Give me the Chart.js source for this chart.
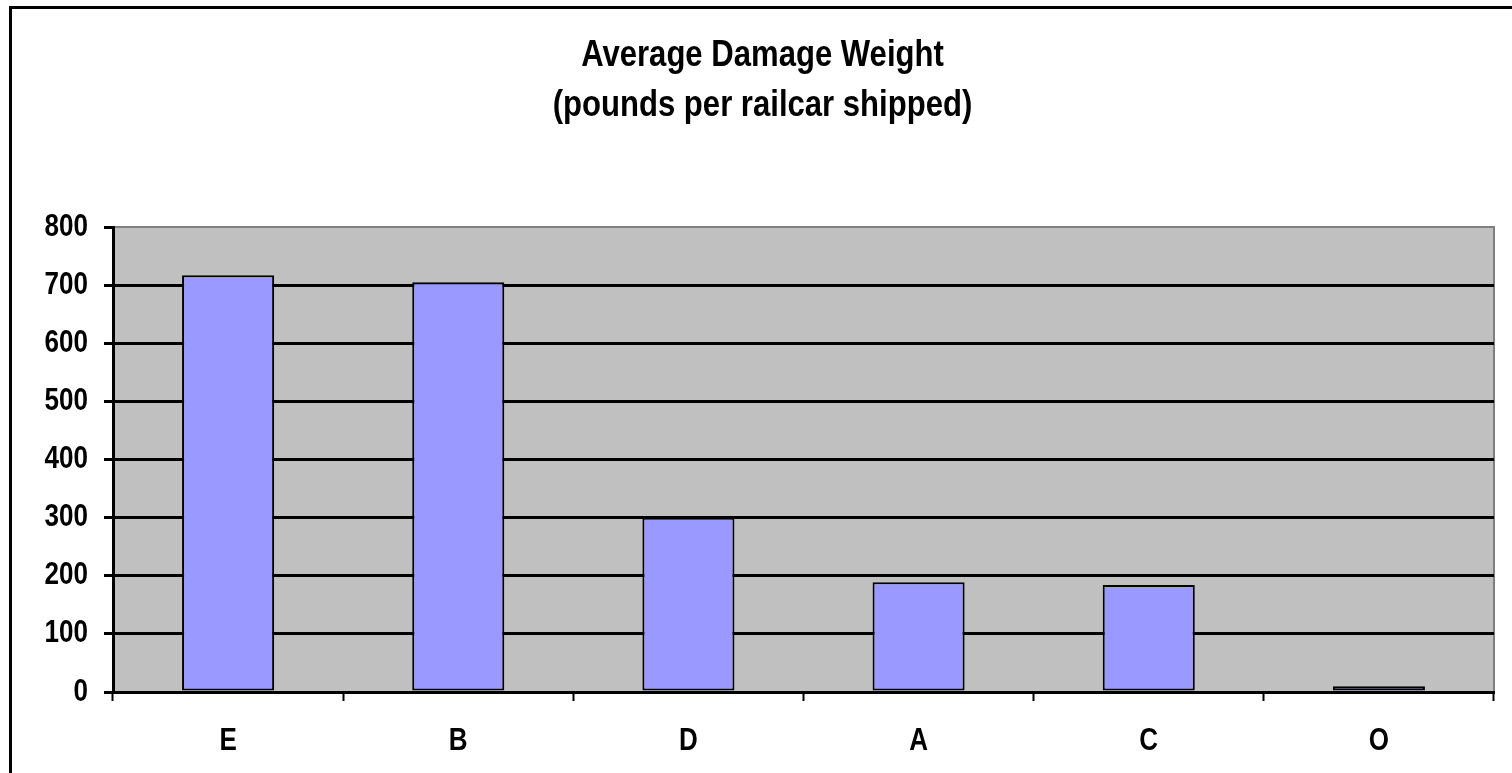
<!DOCTYPE html>
<html>
<head>
<meta charset="utf-8">
<script src="https://cdn.jsdelivr.net/npm/chart.js@4/dist/chart.umd.min.js"></script>
<style>
  html, body { margin:0; padding:0; background:#fff; overflow:hidden; }
  #wrap { position:absolute; left:0; top:0; width:1512px; height:773px; }
  #frame { position:absolute; left:9px; top:6px; width:3000px; height:3000px;
           border-left:3px solid #000; border-top:3px solid #000; pointer-events:none; }
</style>
</head>
<body>
<div id="wrap"><canvas id="c" width="1512" height="773"></canvas></div>
<div id="frame"></div>
<script>
const titleLines = ['Average Damage Weight', '(pounds per railcar shipped)'];
const categories = ['E', 'B', 'D', 'A', 'C', 'O'];
const damageWeight = [717, 705, 300, 189, 184, 10];
const yTicks = [0, 100, 200, 300, 400, 500, 600, 700, 800];

const FONT = "'Liberation Sans', Arial, sans-serif";
const NARROW = 0.84; // emulate an Arial Narrow look

const narrowText = {
  id: 'narrowText',
  beforeInit(chart) {
    const ctx = chart.ctx;
    const orig = ctx.fillText.bind(ctx);
    ctx.fillText = function (t, x, y, mw) {
      ctx.save();
      ctx.translate(x, y);
      ctx.scale(NARROW, 1);
      if (mw !== undefined && mw !== null) orig(t, 0, 0, mw / NARROW);
      else orig(t, 0, 0);
      ctx.restore();
    };
  }
};

const plotBg = {
  id: 'plotBg',
  beforeDraw(chart) {
    const a = chart.chartArea, ctx = chart.ctx;
    ctx.save();
    ctx.fillStyle = '#C0C0C0';
    ctx.fillRect(a.left, a.top, a.right - a.left, a.bottom - a.top);
    ctx.strokeStyle = '#808080';
    ctx.lineWidth = 2;
    ctx.beginPath();
    ctx.moveTo(a.left, a.top);
    ctx.lineTo(a.right, a.top);
    ctx.lineTo(a.right, a.bottom);
    ctx.stroke();
    ctx.restore();
  }
};

new Chart(document.getElementById('c'), {
  type: 'bar',
  data: {
    labels: categories,
    datasets: [{
      data: damageWeight,
      backgroundColor: '#9999FF',
      borderColor: '#000000',
      borderWidth: 2,
      borderSkipped: false,
      barPercentage: 0.4,
      categoryPercentage: 1.0
    }]
  },
  options: {
    responsive: false,
    animation: false,
    devicePixelRatio: 1,
    layout: { padding: { left: 31, right: 18, top: 0, bottom: 0 } },
    plugins: {
      legend: { display: false },
      tooltip: { enabled: false },
      title: {
        display: true,
        text: titleLines,
        color: '#000',
        font: { family: FONT, size: 37, weight: 'bold', lineHeight: 50 / 37 },
        padding: { top: 31, bottom: 96 }
      }
    },
    scales: {
      x: {
        offset: true,
        grid: {
          offset: true,
          drawOnChartArea: false,
          drawTicks: true,
          tickLength: 9,
          tickColor: '#000',
          tickWidth: 2
        },
        border: { display: true, color: '#000', width: 3 },
        ticks: {
          color: '#000',
          font: { family: FONT, size: 31, weight: 'bold' },
          padding: 22,
          maxRotation: 0
        },
        afterFit(scale) { scale.height = 81; }
      },
      y: {
        min: 0,
        max: 800,
        afterBuildTicks(scale) { scale.ticks = yTicks.map(v => ({ value: v })); },
        grid: {
          color: (ctx) => (ctx.tick && ctx.tick.value === 800) ? 'rgba(0,0,0,0)' : '#000',
          lineWidth: 3,
          drawTicks: true,
          tickLength: 9,
          tickColor: '#000',
          tickWidth: 3
        },
        border: { display: true, color: '#000', width: 3 },
        ticks: {
          color: '#000',
          font: { family: FONT, size: 31, weight: 'bold' },
          padding: 16
        },
        afterFit(scale) { scale.width = 82; }
      }
    }
  },
  plugins: [narrowText, plotBg]
});
</script>
</body>
</html>
